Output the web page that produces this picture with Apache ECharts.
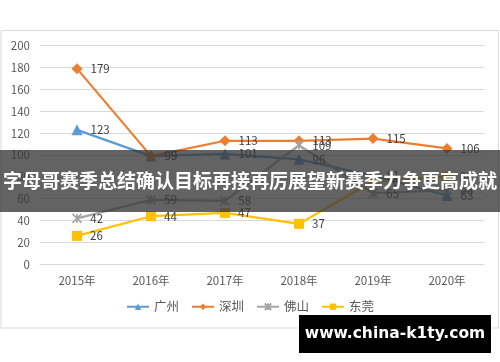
<!DOCTYPE html>
<html><head><meta charset="utf-8">
<script src="https://cdn.jsdelivr.net/npm/echarts@6/dist/echarts.min.js"></script>
<style>html,body{margin:0;padding:0;background:#fff}#c{width:500px;height:362px}</style>
</head><body><div id="c"></div>
<script>
const categories = ['2015年','2016年','2017年','2018年','2019年','2020年'];
const guangzhou = [123, 99, 101, 96, 81, 63];
const shenzhen = [179, 99, 113, 113, 115, 106];
const foshan = [42, 59, 58, 109, 65, 68];
const dongguan = [26, 44, 47, 37, 76, 80];
const yTicks = {min: 0, max: 200, interval: 20};
const bannerText = '字母哥赛季总结确认目标再接再厉展望新赛季力争更高成就';
const watermarkText = 'www.china-k1ty.com';

const FONT = '"Noto Sans CJK SC", "Noto Sans", sans-serif';
const chart = echarts.init(document.getElementById('c'));
function mk(name, data, color, symbol, size, extra) {
  return Object.assign({
    name, type: 'line', data, symbol, symbolSize: size,
    lineStyle: {color, width: 2.2}, itemStyle: {color},
    label: {show: true, position: 'right', distance: 8, color: '#404040', fontSize: 11.5, fontFamily: FONT},
    z: 3
  }, extra || {});
}
chart.setOption({
  animation: false,
  textStyle: {fontFamily: FONT},
  grid: {left: 40, right: 16, top: 45.7, bottom: 97.7},
  xAxis: {
    type: 'category', data: categories, boundaryGap: true,
    axisLine: {lineStyle: {color: '#D9D9D9'}}, axisTick: {show: false},
    axisLabel: {color: '#595959', fontSize: 11.5, margin: 11, fontFamily: FONT}
  },
  yAxis: {
    type: 'value', min: yTicks.min, max: yTicks.max, interval: yTicks.interval,
    axisLine: {show: false}, axisTick: {show: false},
    splitLine: {lineStyle: {color: '#D9D9D9'}},
    axisLabel: {color: '#595959', fontSize: 11.5, margin: 10, fontFamily: FONT}
  },
  legend: {
    bottom: 44, left: 'center', itemWidth: 22, itemHeight: 8, itemGap: 12,
    textStyle: {color: '#595959', fontSize: 12.5, fontFamily: FONT},
    data: ['广州','深圳','佛山','东莞']
  },
  series: [
    mk('广州', guangzhou, '#5B9BD5', 'triangle', 11),
    mk('深圳', shenzhen, '#ED7D31', 'diamond', 11),
    mk('佛山', foshan, '#A5A5A5', 'path://M0,0 L10,10 M10,0 L0,10 M5,0 L5,10', 9,
      {itemStyle: {color: '#A5A5A5', borderColor: '#A5A5A5', borderWidth: 1.6}}),
    mk('东莞', dongguan, '#FFC000', 'rect', 10)
  ],
  graphic: [
    {type: 'rect', shape: {x: 1, y: 30.5, width: 497.5, height: 297.5}, style: {fill: 'none', stroke: '#D9D9D9', lineWidth: 1}, z: 1},
    {type: 'rect', shape: {x: 0, y: 150, width: 500, height: 62}, style: {fill: 'rgba(55,55,55,0.78)'}, z: 100},
    {type: 'text', x: 250, y: 181, style: {text: bannerText, fill: '#fff', font: 'bold 19px "Noto Sans CJK SC"', align: 'center', verticalAlign: 'middle'}, z: 101},
    {type: 'rect', shape: {x: 299, y: 315, width: 192, height: 38}, style: {fill: '#000'}, z: 100},
    {type: 'text', x: 395, y: 334, style: {text: watermarkText, fill: '#fff', font: 'bold 15.5px "DejaVu Sans"', align: 'center', verticalAlign: 'middle'}, z: 101}
  ]
});
</script></body></html>
